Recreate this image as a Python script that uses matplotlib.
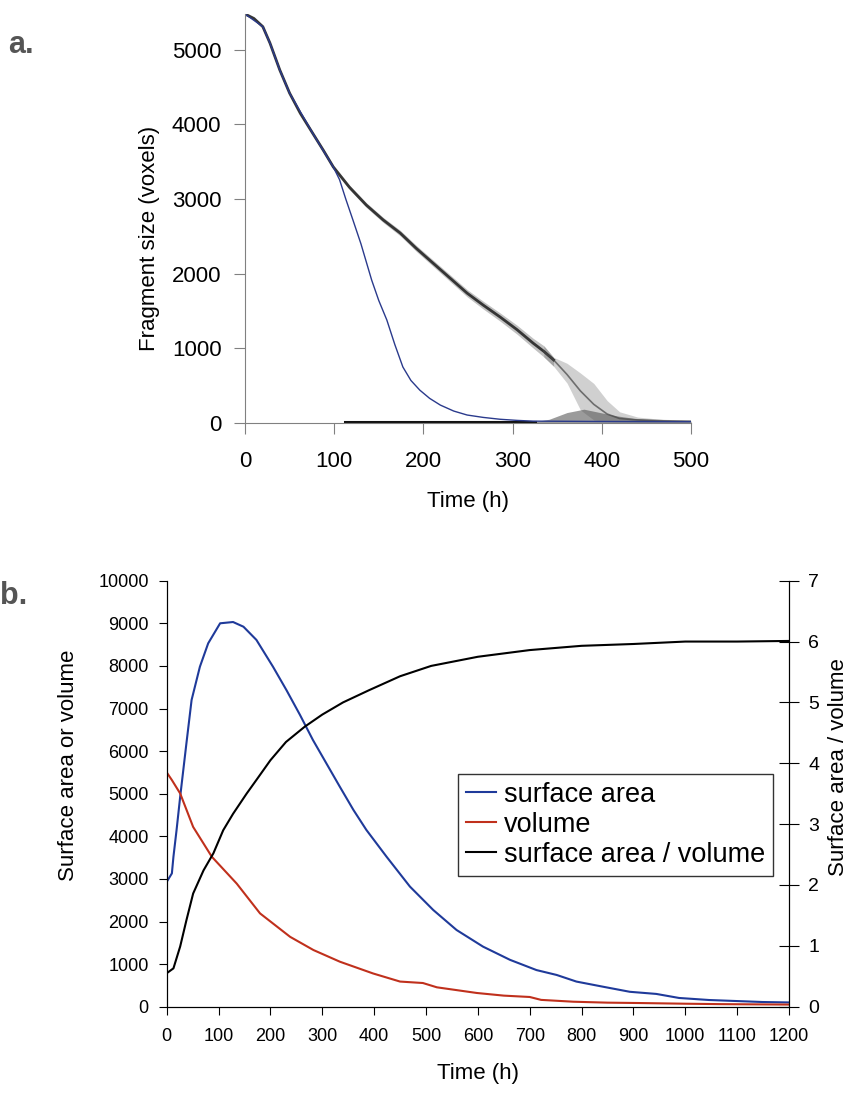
import numpy as np
import matplotlib
matplotlib.use("Agg")
import matplotlib.pyplot as plt

plt.rcParams['font.family'] = ['Liberation Sans', 'DejaVu Sans']

# --- panel a: fragment size trajectories --------------------------------
band_t = [0, 10, 20, 28, 39, 50, 62, 76, 88, 99, 117, 136, 155, 174, 192,
          211, 230, 249, 267, 286, 305, 323, 335, 346, 361, 376, 391, 406,
          420, 440, 470, 500]
band_mid = [5480, 5420, 5310, 5090, 4730, 4420, 4150, 3880, 3650, 3430, 3160,
            2920, 2720, 2545, 2340, 2140, 1940, 1740, 1580, 1420, 1250, 1070,
            960, 845, 650, 430, 250, 120, 60, 40, 30, 25]
band_lo = [5475, 5410, 5295, 5075, 4712, 4402, 4130, 3858, 3625, 3403, 3130,
           2888, 2686, 2508, 2300, 2098, 1895, 1692, 1528, 1365, 1190, 1005,
           885, 760, 535, 175, 40, 20, 15, 12, 10, 8]
band_hi = [5485, 5430, 5325, 5105, 4748, 4438, 4170, 3902, 3675, 3457, 3190,
           2952, 2754, 2582, 2380, 2182, 1985, 1788, 1632, 1475, 1310, 1135,
           1035, 880, 800, 670, 530, 300, 150, 80, 45, 30]

cloud_t = [323, 341, 361, 380, 398, 417, 436, 455, 473, 500]
cloud_top = [15, 50, 140, 185, 140, 95, 63, 48, 36, 18]

blue_t = [0, 20, 28, 39, 50, 76, 99, 106, 113, 121, 130, 142, 150, 159, 168,
          177, 186, 196, 207, 219, 234, 249, 267, 286, 305, 323, 400, 500]
blue_v = [5480, 5310, 5090, 4730, 4420, 3880, 3430, 3260, 3000, 2720, 2400,
          1915, 1640, 1380, 1050, 750, 570, 440, 330, 240, 160, 107, 75, 50,
          35, 25, 20, 18]

floor_t = [112, 325]
floor_v = [15, 15]

# --- panel b: surface area, volume and their ratio ------------------------
sa_t = [0, 10, 13, 19, 26, 38, 48, 64, 80, 103, 128, 148, 173, 205, 231, 257,
        282, 308, 334, 360, 385, 424, 469, 514, 559, 610, 662, 713, 752, 790,
        841, 893, 944, 988, 1046, 1149, 1200]
sa_v = [2930, 3130, 3520, 4145, 4930, 6180, 7200, 7980, 8530, 9000, 9030, 8920,
        8610, 7980, 7430, 6850, 6260, 5710, 5160, 4620, 4150, 3520, 2820, 2270,
        1800, 1410, 1100, 860, 745, 590, 470, 350, 300, 205, 157, 110, 100]

vol_t = [0, 10, 26, 51, 87, 135, 180, 238, 283, 334, 398, 450, 494, 521, 598,
         650, 700, 722, 784, 850, 912, 1000, 1070, 1200]
vol_v = [5500, 5320, 5005, 4220, 3520, 2890, 2190, 1640, 1330, 1056, 780, 590,
         556, 455, 322, 260, 228, 160, 117, 95, 86, 70, 60, 50]

ratio_t = [0, 13, 26, 38, 51, 71, 90, 109, 128, 154, 175, 200, 230, 266, 300,
           340, 390, 450, 510, 600, 700, 800, 900, 1000, 1100, 1200]
ratio_v = [0.55, 0.63, 0.99, 1.42, 1.86, 2.24, 2.52, 2.90, 3.17, 3.50, 3.75,
           4.05, 4.35, 4.60, 4.80, 5.00, 5.20, 5.43, 5.60, 5.75, 5.86, 5.93,
           5.96, 6.00, 6.00, 6.01]

fig = plt.figure(figsize=(8.54, 10.93), dpi=100)

# ---- panel a ----
axa = fig.add_axes([245 / 854, 1 - 423 / 1093, 446 / 854, 409 / 1093])
gray = '#808080'
n_core = band_t.index(346) + 1   # after this the runs fan out
n_fan = band_t.index(335)
axa.fill_between(band_t[:n_core], band_lo[:n_core], band_hi[:n_core],
                 color='#777777', alpha=0.45, lw=0)
axa.fill_between(band_t[n_fan:], band_lo[n_fan:], band_hi[n_fan:],
                 color='#666666', alpha=0.3, lw=0)
axa.plot(band_t[:n_core], band_mid[:n_core], color='#353535', lw=2.0)
axa.plot(band_t[n_core - 2:], band_mid[n_core - 2:], color='#444444', lw=1.2,
         alpha=0.7)
axa.fill_between(cloud_t, 0, cloud_top, color='#4a4a4a', alpha=0.55, lw=0)
axa.plot(floor_t, floor_v, color='#111111', lw=2.2)
axa.plot(blue_t, blue_v, color='#2a3a8c', lw=1.0)
axa.set_xlim(0, 500)
axa.set_ylim(0, 5480)
axa.set_xticks(np.arange(0, 501, 100))
axa.set_yticks(np.arange(0, 5001, 1000))
for s in ['top', 'right']:
    axa.spines[s].set_visible(False)
for s in ['left', 'bottom']:
    axa.spines[s].set_color(gray)
axa.tick_params(axis='both', colors=gray, labelcolor='black', labelsize=16,
                length=8, direction='out')
axa.tick_params(axis='y', pad=9)
axa.tick_params(axis='x', pad=12)
axa.set_ylabel('Fragment size (voxels)', fontsize=16)
axa.set_xlabel('Time (h)', fontsize=16)
axa.yaxis.set_label_coords(-0.19, 0.452)
axa.xaxis.set_label_coords(0.5, -0.166)
fig.text(8 / 854, 1 - 45 / 1093, 'a.', fontsize=22, fontweight='bold',
         color='#555555', va='center', ha='left')

# ---- panel b ----
axb = fig.add_axes([166.7 / 854, 1 - 1006.7 / 1093, 622.3 / 854, 426 / 1093])
axr = axb.twinx()
l1, = axb.plot(sa_t, sa_v, color='#1f3a9a', lw=1.5)
l2, = axb.plot(vol_t, vol_v, color='#c0301c', lw=1.5)
l3, = axr.plot(ratio_t, ratio_v, color='black', lw=1.5)
axb.set_xlim(0, 1200)
axb.set_ylim(0, 10000)
axr.set_ylim(0, 7)
axb.set_xticks(np.arange(0, 1201, 100))
axb.set_yticks(np.arange(0, 10001, 1000))
axr.set_yticks(np.arange(0, 8, 1))
for ax in (axb, axr):
    ax.spines['top'].set_visible(False)
axb.tick_params(axis='both', labelsize=13, length=6, direction='out')
axb.tick_params(axis='y', pad=7)
axb.tick_params(axis='x', pad=9)
axr.tick_params(axis='y', labelsize=14, length=14, direction='inout', pad=7)
axb.set_ylabel('Surface area or volume', fontsize=16)
axr.set_ylabel('Surface area / volume', fontsize=16)
axb.set_xlabel('Time (h)', fontsize=16)
axb.yaxis.set_label_coords(-0.141, 0.567)
axr.yaxis.set_label_coords(1.063, 0.563)
axb.xaxis.set_label_coords(0.5, -0.132)
leg = axr.legend([l1, l2, l3], ['surface area', 'volume', 'surface area / volume'],
                 loc='lower left', bbox_to_anchor=(0.468, 0.307), borderaxespad=0,
                 fontsize=19.5, handlelength=1.1, handletextpad=0.3,
                 labelspacing=0.15, borderpad=0.3, fancybox=False,
                 framealpha=1, edgecolor='#333333')
leg.get_frame().set_linewidth(1.0)
fig.text(0 / 854, 1 - 596 / 1093, 'b.', fontsize=22, fontweight='bold',
         color='#555555', va='center', ha='left')

fig.savefig('out.png', dpi=100)
